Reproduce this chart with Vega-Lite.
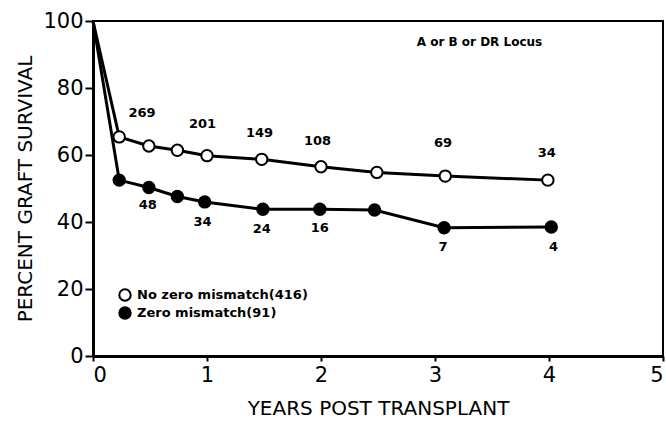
{
  "$schema": "https://vega.github.io/schema/vega-lite/v6.json",
  "width": 570,
  "height": 335,
  "autosize": "none",
  "padding": {"left": 93, "top": 21, "right": 3, "bottom": 66},
  "background": "white",
  "config": {
    "view": {"stroke": "black", "strokeWidth": 2},
    "font": "DejaVu Sans",
    "axis": {"grid": false, "domainColor": "black", "domainWidth": 3, "tickColor": "black", "tickWidth": 2, "labelColor": "black", "titleColor": "black", "labelFontSize": 21, "titleFontSize": 20, "titleFontWeight": "normal"}
  },
  "datasets": {
    "series": [
      {"group": "No zero mismatch(416)", "years": 0, "pct": 100},
      {"group": "No zero mismatch(416)", "years": 0.23, "pct": 65.4},
      {"group": "No zero mismatch(416)", "years": 0.49, "pct": 62.7},
      {"group": "No zero mismatch(416)", "years": 0.74, "pct": 61.4},
      {"group": "No zero mismatch(416)", "years": 1.0, "pct": 59.8},
      {"group": "No zero mismatch(416)", "years": 1.48, "pct": 58.7},
      {"group": "No zero mismatch(416)", "years": 2.0, "pct": 56.5},
      {"group": "No zero mismatch(416)", "years": 2.49, "pct": 54.8},
      {"group": "No zero mismatch(416)", "years": 3.09, "pct": 53.7},
      {"group": "No zero mismatch(416)", "years": 3.99, "pct": 52.5},
      {"group": "Zero mismatch(91)", "years": 0, "pct": 100},
      {"group": "Zero mismatch(91)", "years": 0.23, "pct": 52.5},
      {"group": "Zero mismatch(91)", "years": 0.49, "pct": 50.3},
      {"group": "Zero mismatch(91)", "years": 0.74, "pct": 47.6},
      {"group": "Zero mismatch(91)", "years": 0.98, "pct": 46.0},
      {"group": "Zero mismatch(91)", "years": 1.49, "pct": 43.8},
      {"group": "Zero mismatch(91)", "years": 1.99, "pct": 43.8},
      {"group": "Zero mismatch(91)", "years": 2.47, "pct": 43.6},
      {"group": "Zero mismatch(91)", "years": 3.08, "pct": 38.3},
      {"group": "Zero mismatch(91)", "years": 4.02, "pct": 38.5}
    ],
    "labels": [
      {"years": 0.43, "pct": 72.5, "label": "269"},
      {"years": 0.96, "pct": 69.3, "label": "201"},
      {"years": 1.46, "pct": 66.6, "label": "149"},
      {"years": 1.97, "pct": 64.2, "label": "108"},
      {"years": 3.07, "pct": 63.6, "label": "69"},
      {"years": 3.98, "pct": 60.6, "label": "34"},
      {"years": 0.48, "pct": 45.0, "label": "48"},
      {"years": 0.96, "pct": 40.0, "label": "34"},
      {"years": 1.48, "pct": 37.9, "label": "24"},
      {"years": 1.99, "pct": 38.2, "label": "16"},
      {"years": 3.07, "pct": 32.5, "label": "7"},
      {"years": 4.04, "pct": 32.5, "label": "4"}
    ],
    "note": [
      {"years": 3.39, "pct": 93.7, "label": "A or B or DR Locus"}
    ]
  },
  "layer": [
    {
      "data": {"name": "series"},
      "mark": {"type": "line", "color": "black", "strokeWidth": 3},
      "encoding": {
        "x": {"field": "years", "type": "quantitative", "scale": {"domain": [0, 5], "nice": false}, "axis": {"values": [0, 1, 2, 3, 4, 5], "format": "d", "title": "YEARS POST TRANSPLANT", "tickSize": 5, "labelPadding": 3, "titlePadding": 13}},
        "y": {"field": "pct", "type": "quantitative", "scale": {"domain": [0, 100], "nice": false}, "axis": {"values": [0, 20, 40, 60, 80, 100], "format": "d", "title": "PERCENT GRAFT SURVIVAL", "tickSize": 8, "labelPadding": 2, "titlePadding": 7}},
        "detail": {"field": "group"}
      }
    },
    {
      "data": {"name": "series"},
      "transform": [{"filter": "datum.years > 0"}],
      "mark": {"type": "point", "shape": "circle", "filled": true, "stroke": "black", "strokeWidth": 2, "size": 130, "opacity": 1},
      "encoding": {
        "x": {"field": "years", "type": "quantitative"},
        "y": {"field": "pct", "type": "quantitative"},
        "fill": {
          "field": "group",
          "type": "nominal",
          "scale": {"domain": ["No zero mismatch(416)", "Zero mismatch(91)"], "range": ["white", "black"]},
          "legend": {"orient": "none", "legendX": 25, "legendY": 267, "title": null, "labelFontSize": 13, "labelFontWeight": "bold", "labelColor": "black", "labelLimit": 300, "symbolSize": 130, "symbolType": "circle", "symbolStrokeColor": "black", "symbolStrokeWidth": 2, "rowPadding": -2, "labelOffset": 5}
        }
      }
    },
    {
      "data": {"name": "labels"},
      "mark": {"type": "text", "fontWeight": "bold", "fontSize": 13, "color": "black"},
      "encoding": {
        "x": {"field": "years", "type": "quantitative"},
        "y": {"field": "pct", "type": "quantitative"},
        "text": {"field": "label"}
      }
    },
    {
      "data": {"name": "note"},
      "mark": {"type": "text", "fontWeight": "bold", "fontSize": 12, "color": "black"},
      "encoding": {
        "x": {"field": "years", "type": "quantitative"},
        "y": {"field": "pct", "type": "quantitative"},
        "text": {"field": "label"}
      }
    }
  ]
}
